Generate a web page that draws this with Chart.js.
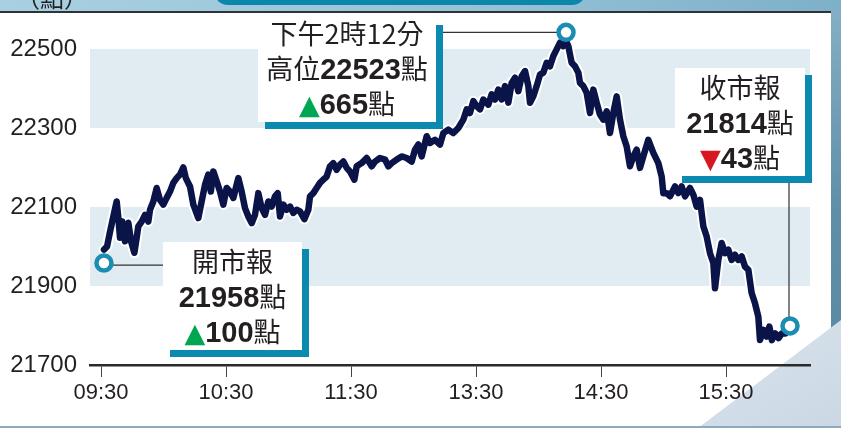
<!DOCTYPE html>
<html><head><meta charset="utf-8">
<script src="https://cdn.jsdelivr.net/npm/chart.js@4.4.1/dist/chart.umd.min.js"></script>
<style>
html,body{margin:0;padding:0;background:#fff;}
#wrap{position:relative;width:841px;height:428px;overflow:hidden;background:#fff;font-family:"Liberation Sans",Arial,sans-serif;}
#chart{position:absolute;left:0;top:0;z-index:2;}
.hdr{position:absolute;left:0;top:0;width:841px;height:12px;background:linear-gradient(90deg,#a9d0e1,#97c3d7 55%,#7db0c9);z-index:3;}
.tab{position:absolute;left:214px;top:-12px;width:372px;height:17px;background:#0b87ab;border-radius:0 0 14px 14px;z-index:4;}
.hline{position:absolute;left:0;top:11px;width:831px;height:2px;background:#2f3236;z-index:4;}
.unit{position:absolute;left:16px;top:-21px;font:24px "Noto Sans CJK TC";color:#231f20;z-index:4;}
.rstrip{position:absolute;left:831px;top:0;width:10px;height:428px;background:linear-gradient(180deg,#86b0c6,#5f8ea8 50%,#5a88a2);z-index:1;}
.corner{position:absolute;left:0;top:0;width:841px;height:428px;background:linear-gradient(150deg,#f4f7fa 45%,#e6edf4 62%,#d8e2ec 80%,#cbd8e4);clip-path:polygon(698px 428px,841px 320px,841px 428px);z-index:1;}
.bline{position:absolute;left:0;top:426px;width:841px;height:2px;background:#8ea9bb;z-index:1;}
.sh{position:absolute;background:#0b89ae;z-index:5;}
.wb{position:absolute;background:#fff;z-index:6;}
.txt{position:absolute;text-align:center;color:#231f20;font-family:"Noto Sans CJK TC";font-size:27px;z-index:7;}
.ln{display:block;height:35px;line-height:35px;white-space:nowrap;}
.n{font-family:"Liberation Sans",Arial,sans-serif;font-weight:bold;font-size:29px;}
.up{color:#00a651;font-family:"DejaVu Sans";font-size:27px;}
.dn{color:#d7191f;font-family:"DejaVu Sans";font-size:27px;}
</style>
</head>
<body>
<div id="wrap">
  <div class="hdr"></div>
  <div class="tab"></div>
  <div class="hline"></div>
  <div class="unit">（點）</div>
  <div class="rstrip"></div>
  <div class="corner"></div>
  <div class="bline"></div>
  <canvas id="chart" width="841" height="428"></canvas>

  <!-- open callout -->
  <div class="sh" style="left:170px;top:249px;width:139px;height:108px;"></div>
  <div class="wb" style="left:163px;top:242px;width:139px;height:108px;"></div>
  <div class="txt" style="left:163px;top:243px;width:139px;">
    <span class="ln">開市報</span>
    <span class="ln"><span class="n">21958</span>點</span>
    <span class="ln"><span class="up">▲</span><span class="n">100</span>點</span>
  </div>

  <!-- high callout -->
  <div class="sh" style="left:265px;top:25px;width:178px;height:104px;"></div>
  <div class="wb" style="left:258px;top:14px;width:178px;height:108px;"></div>
  <div class="txt" style="left:258px;top:15px;width:178px;">
    <span class="ln">下午2時12分</span>
    <span class="ln">高位<span class="n">22523</span>點</span>
    <span class="ln"><span class="up">▲</span><span class="n">665</span>點</span>
  </div>

  <!-- close callout -->
  <div class="sh" style="left:682px;top:75px;width:130px;height:108px;"></div>
  <div class="wb" style="left:675px;top:68px;width:130px;height:108px;"></div>
  <div class="txt" style="left:675px;top:69px;width:130px;">
    <span class="ln">收市報</span>
    <span class="ln"><span class="n">21814</span>點</span>
    <span class="ln"><span class="dn">▼</span><span class="n">43</span>點</span>
  </div>
</div>
<script>
// Trading minutes since 09:30 (lunch break removed: 12:00 and 13:00 share minute 150)
const tradeMin = [1.4,2.9,4.3,5.9,7.5,8.3,9.1,10.2,11.5,13.1,14.4,16.0,17.1,17.9,19.5,21.1,22.7,23.5,25.1,26.7,28.3,29.9,31.5,33.1,34.7,36.3,37.9,39.5,40.7,42.7,44.3,46.7,48.3,49.9,51.5,52.7,53.9,55.5,57.1,58.7,60.3,61.9,63.5,65.9,67.5,69.1,70.7,72.3,73.9,
75.5,77.1,78.7,80.3,81.9,83.5,84.8,85.9,87.5,89.1,90.7,92.3,93.9,95.5,97.6,99.5,100.3,101.9,103.5,105.1,106.7,108.3,109.9,111.5,113.1,114.7,116.3,117.9,119.5,121.6,122.7,125.1,127.5,129.9,131.5,133.9,136.3,137.9,139.5,141.9,144.3,146.7,149.1,
150.7,152.3,153.9,156.3,157.9,160.3,162.7,164.3,166.7,169.1,171.5,173.9,175.5,177.1,178.7,180.3,181.9,183.5,185.9,187.5,189.1,190.7,192.3,193.9,195.5,197.1,198.7,200.3,201.9,203.5,205.1,205.9,207.5,209.1,210.7,212.3,213.9,215.5,217.1,218.7,220.3,221.9,223.0,
224.3,225.9,227.5,229.1,229.9,231.5,233.1,234.7,236.3,237.9,239.5,241.1,242.7,244.3,245.9,247.5,249.1,250.7,252.3,253.9,255.5,257.1,258.7,260.3,262.7,265.1,267.5,269.1,269.9,
271.6,273.1,275.5,277.1,278.7,280.3,282.7,284.3,285.9,287.5,289.1,290.7,292.3,293.9,294.7,296.3,297.9,299.5,301.1,302.7,304.3,305.9,307.5,309.1,310.7,312.3,313.9,315.5,316.3,317.9,319.5,320.8,322.0,323.6,325.2,326.8,328.4];

const hsi = [21992,22000,22037,22076,22114,22073,22022,22063,22013,22060,22013,21984,22022,22051,22063,22080,22063,22093,22114,22148,22118,22106,22123,22139,22161,22173,22182,22200,22173,22152,22106,22072,22114,22156,22182,22139,22190,22165,22139,22106,22148,22139,22123,22173,22139,22097,22076,22059,22080,
22135,22097,22080,22114,22101,22127,22135,22076,22106,22093,22101,22085,22093,22089,22069,22093,22127,22135,22148,22161,22169,22177,22203,22211,22194,22207,22215,22199,22190,22169,22203,22211,22224,22203,22215,22224,22220,22203,22211,22220,22228,22224,22215,
22245,22258,22228,22279,22262,22270,22258,22287,22296,22287,22300,22321,22347,22338,22368,22355,22347,22372,22359,22385,22372,22397,22372,22406,22364,22414,22427,22393,22431,22444,22406,22364,22380,22406,22435,22440,22465,22456,22482,22499,22516,22507,22523,
22507,22465,22456,22440,22414,22406,22389,22338,22397,22364,22334,22321,22342,22287,22338,22380,22321,22279,22253,22203,22228,22245,22199,22228,22270,22237,22211,22177,22135,
22135,22127,22152,22135,22152,22127,22148,22131,22101,22118,22051,22025,21983,21958,21894,21966,22009,21983,21992,21966,21979,21966,21975,21949,21941,21882,21856,21822,21763,21789,21772,21797,21763,21780,21768,21780,21780];

// open / high / close markers
const markerMin = [1.4, 223.2, 330.7];
const markerVal = [21958, 22542, 21799];

const xTickMin = [0, 60, 120, 180, 240, 300];
const xTickLabels = ['09:30', '10:30', '11:30', '13:30', '14:30', '15:30'];
const yTicks = [21700, 21900, 22100, 22300, 22500];
const bands = [[21900, 22100], [22300, 22500]];

const series = tradeMin.map((t, i) => ({ x: t, y: hsi[i] }));
const markers = markerMin.map((t, i) => ({ x: t, y: markerVal[i] }));

const bandPlugin = {
  id: 'bands',
  beforeDatasetsDraw(chart) {
    const { ctx, chartArea: a, scales: { x, y } } = chart;
    ctx.save();
    ctx.fillStyle = '#e1ebf2';
    bands.forEach(([lo, hi]) => {
      const t = y.getPixelForValue(hi), b = y.getPixelForValue(lo);
      ctx.fillRect(a.left, t, a.right - a.left, b - t);
    });
    // leader lines from markers to callouts
    const p = markerMin.map((m, i) => [x.getPixelForValue(m), y.getPixelForValue(markerVal[i])]);
    ctx.strokeStyle = '#333';
    ctx.lineWidth = 1.2;
    ctx.beginPath();
    ctx.moveTo(p[0][0] + 8, p[0][1] + 2); ctx.lineTo(163, p[0][1] + 2);
    ctx.moveTo(443, p[1][1]); ctx.lineTo(p[1][0] - 8, p[1][1]);
    ctx.moveTo(p[2][0] - 1, 183); ctx.lineTo(p[2][0] - 1, p[2][1] - 8);
    ctx.stroke();
    ctx.restore();
  }
};

new Chart(document.getElementById('chart'), {
  type: 'line',
  data: {
    datasets: [
      { data: markers, showLine: false, pointRadius: 7.5, pointHoverRadius: 7.5, pointBorderWidth: 4.5,
        pointBackgroundColor: '#ffffff', pointBorderColor: '#1a8db3', order: 0, clip: false },
      { data: series, borderColor: '#0b1449', borderWidth: 6.5, pointRadius: 0, tension: 0,
        borderJoinStyle: 'round', borderCapStyle: 'round', order: 1, clip: false },
      { data: series, borderColor: '#ffffff', borderWidth: 10.5, pointRadius: 0, tension: 0,
        borderJoinStyle: 'round', borderCapStyle: 'round', order: 2, clip: false }
    ]
  },
  options: {
    responsive: false,
    animation: false,
    devicePixelRatio: 1,
    layout: { padding: { left: 0, top: 28, right: 31, bottom: 0 } },
    plugins: { legend: { display: false }, tooltip: { enabled: false } },
    scales: {
      x: {
        type: 'linear', min: -5.3, max: 340.3,
        afterBuildTicks: s => { s.ticks = xTickMin.map(v => ({ value: v })); },
        afterFit: s => { s.height = 63; },
        ticks: {
          callback: v => xTickLabels[xTickMin.indexOf(v)],
          font: { size: 22, family: 'Liberation Sans' }, color: '#231f20',
          padding: 3, maxRotation: 0, autoSkip: false
        },
        grid: { drawOnChartArea: false, drawTicks: true, tickLength: 12, color: '#444', lineWidth: 1 },
        border: { display: true, color: '#2a2a2a', width: 2.5 }
      },
      y: {
        type: 'linear', min: 21700, max: 22553,
        afterBuildTicks: s => { s.ticks = yTicks.map(v => ({ value: v })); },
        afterFit: s => { s.width = 90; },
        ticks: { callback: v => String(v), font: { size: 24, family: 'Liberation Sans' }, color: '#231f20', padding: 13 },
        grid: { display: false, drawTicks: false },
        border: { display: false }
      }
    }
  },
  plugins: [bandPlugin]
});
</script>
</body></html>
